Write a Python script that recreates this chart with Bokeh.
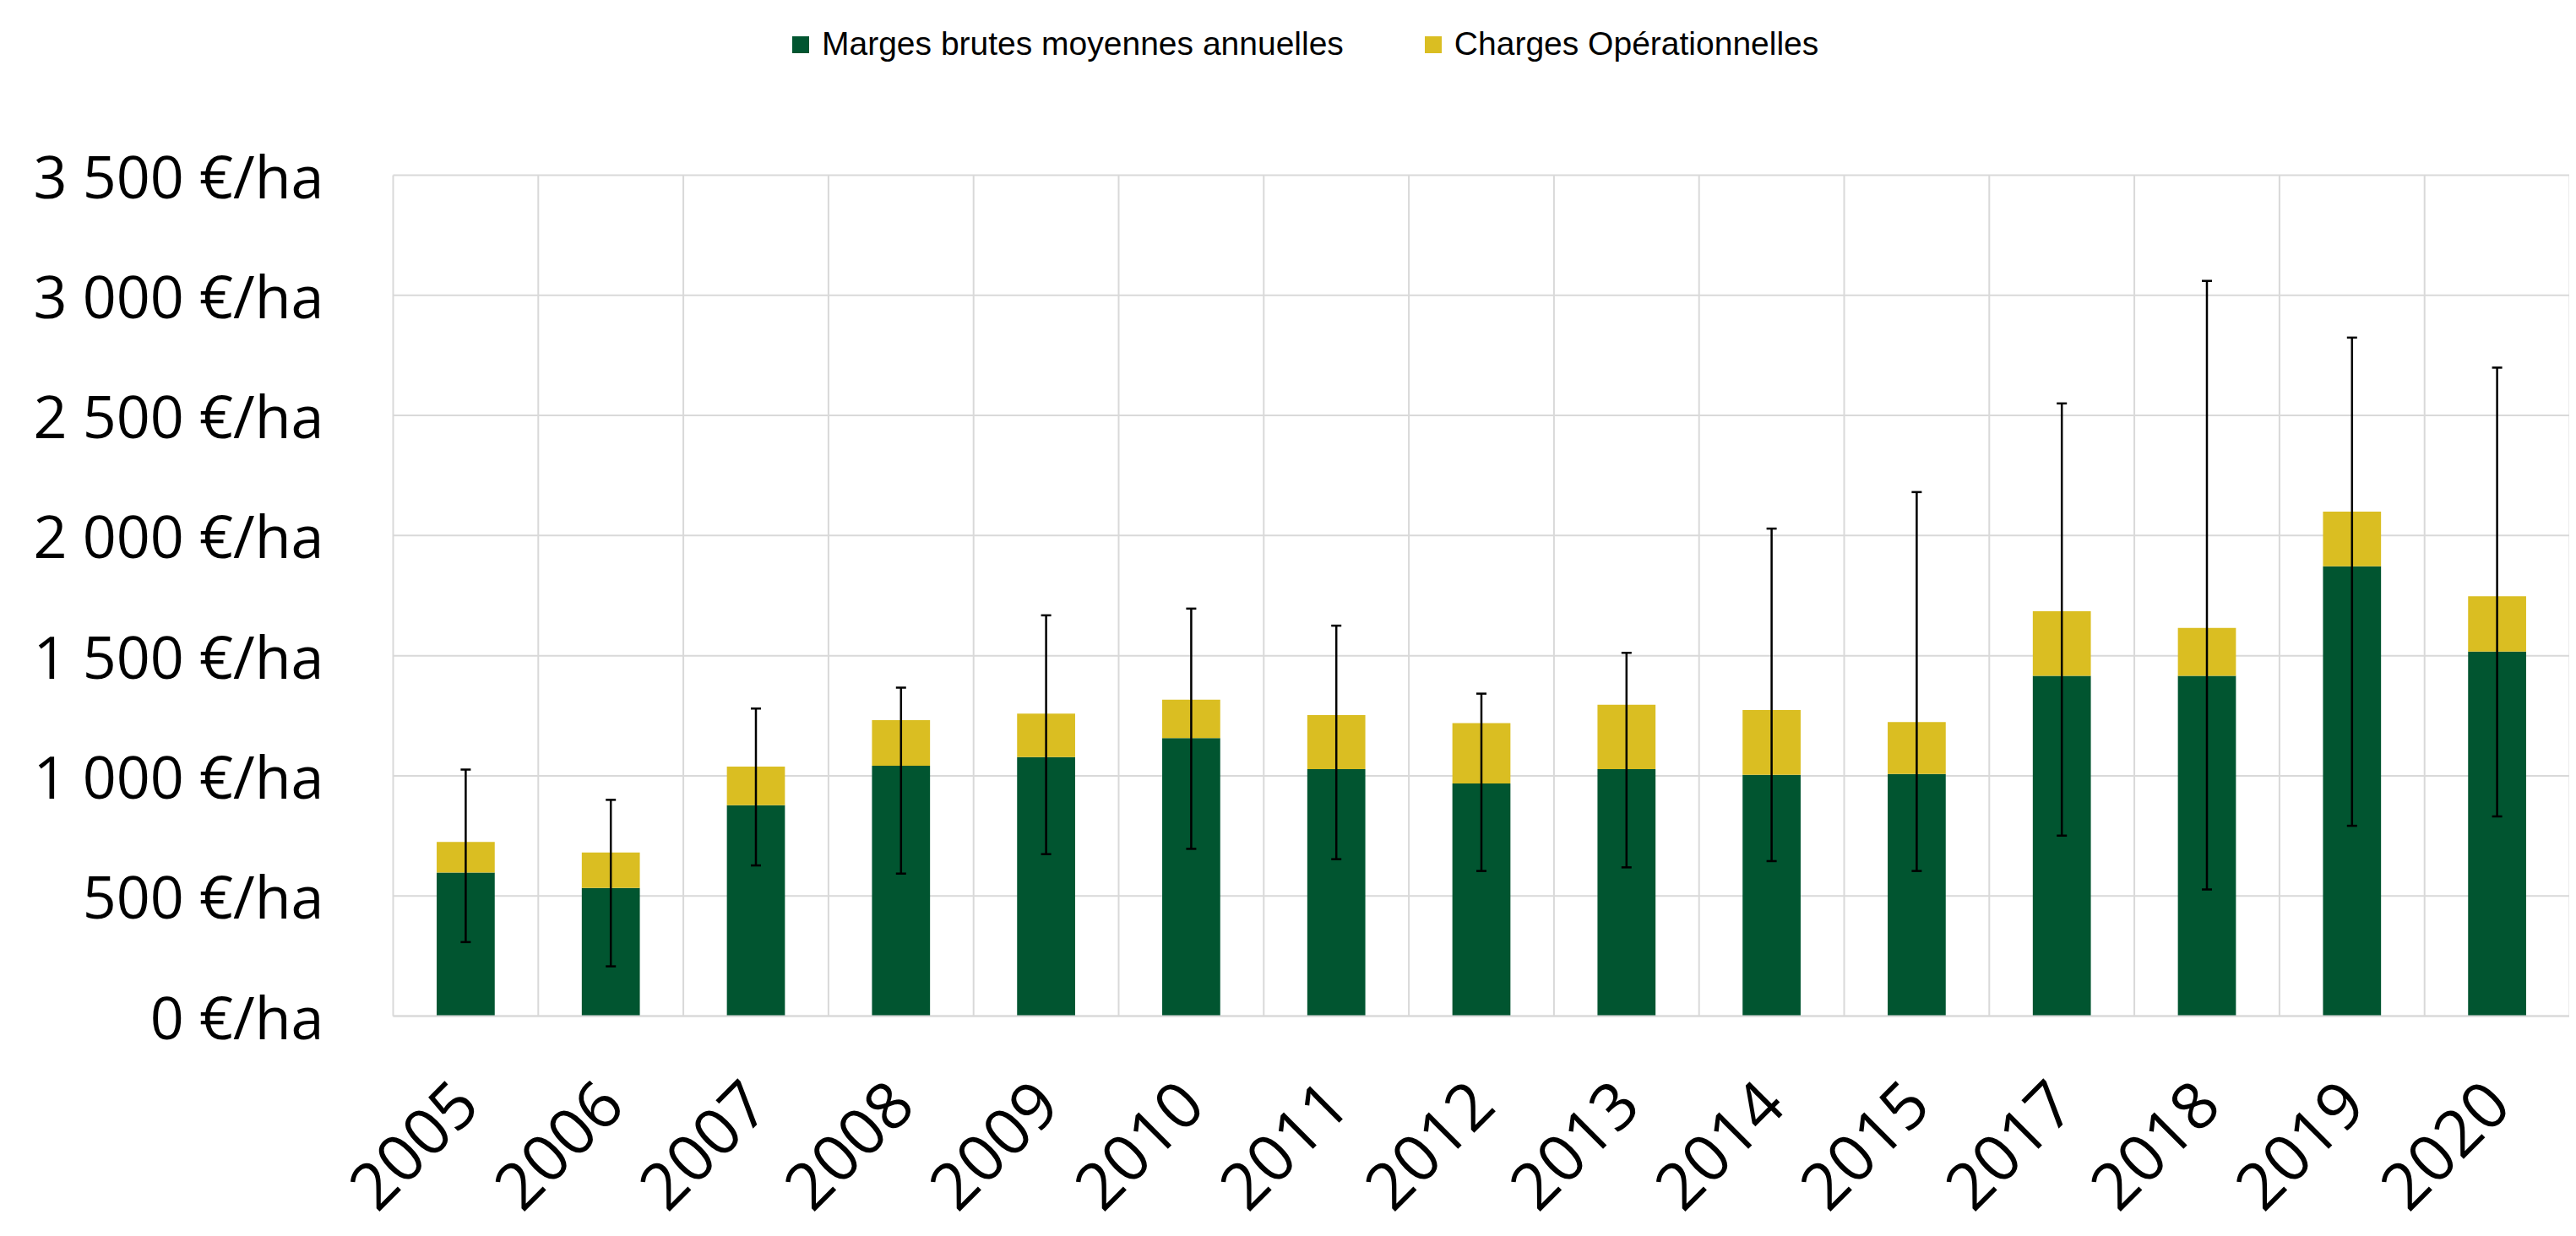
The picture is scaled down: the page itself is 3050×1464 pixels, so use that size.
import numpy as np
from bokeh.plotting import figure
from bokeh.models import (ColumnDataSource, Range1d, FixedTicker, Whisker, TeeHead,
                          Legend, LegendItem)
from bokeh.embed import file_html
from bokeh.resources import INLINE

# ---- data ----
years = ["2005", "2006", "2007", "2008", "2009", "2010", "2011", "2012",
         "2013", "2014", "2015", "2017", "2018", "2019", "2020"]
marges = [597, 533, 878, 1042, 1078, 1157, 1028, 968, 1028, 1004, 1008, 1416, 1416, 1872, 1517]
charges = [128, 148, 160, 190, 181, 160, 225, 251, 268, 270, 216, 269, 200, 228, 230]
err_haut = [1026, 900, 1280, 1367, 1668, 1696, 1625, 1342, 1512, 2029, 2181, 2550, 3060, 2824, 2699]
err_bas = [308, 207, 627, 593, 674, 696, 653, 604, 619, 645, 604, 751, 527, 792, 831]
y_ticks = [0, 500, 1000, 1500, 2000, 2500, 3000, 3500]
y_labels = ["0 €/ha", "500 €/ha", "1 000 €/ha", "1 500 €/ha", "2 000 €/ha",
            "2 500 €/ha", "3 000 €/ha", "3 500 €/ha"]
series = ["Marges brutes moyennes annuelles", "Charges Opérationnelles"]
colors = ["#015530", "#DABE22"]

# ---- layout (pixels) ----
W, H = 3042, 1456
PLOT_LEFT, PLOT_RIGHT, PLOT_TOP, PLOT_BOTTOM = 465, 3042, 207, 1203

n = len(years)
upp_y = (y_ticks[-1] - y_ticks[0]) / (PLOT_BOTTOM - PLOT_TOP)
y_max = y_ticks[-1] + PLOT_TOP * upp_y
y_min = y_ticks[0] - (H - PLOT_BOTTOM) * upp_y
upp_x = n / (PLOT_RIGHT - PLOT_LEFT)
x_min = -0.5 - PLOT_LEFT * upp_x
x_max = n - 0.5 + (W - PLOT_RIGHT) * upp_x

xs = list(range(n))
src = ColumnDataSource(dict(x=xs, marges=marges, charges=charges, hi=err_haut, lo=err_bas))

p = figure(width=W, height=H,
           x_range=Range1d(x_min, x_max), y_range=Range1d(y_min, y_max),
           output_backend="svg", toolbar_location=None,
           min_border_left=0, min_border_right=0, min_border_top=0, min_border_bottom=0)
p.outline_line_color = None
p.background_fill_color = "white"
p.xgrid.visible = False
p.ygrid.visible = False

# gridlines limited to the chart area
bounds = [i - 0.5 for i in range(n + 1)]
p.segment(x0=bounds, x1=bounds, y0=[y_ticks[0]] * len(bounds), y1=[y_ticks[-1]] * len(bounds),
          line_color="#D9D9D9", line_width=2)
p.segment(x0=[bounds[0]] * len(y_ticks), x1=[bounds[-1]] * len(y_ticks), y0=y_ticks, y1=y_ticks,
          line_color="#D9D9D9", line_width=2)

rs = p.vbar_stack(["marges", "charges"], x="x", width=0.4, source=src,
                  fill_color=colors, line_color=None)

whisk = Whisker(source=src, base="x", upper="hi", lower="lo",
                line_color="black", line_width=2.5, level="overlay",
                upper_head=TeeHead(size=12, line_width=2.5, line_color="black"),
                lower_head=TeeHead(size=12, line_width=2.5, line_color="black"))
p.add_layout(whisk)

# x axis, drawn at value 0
xa = p.xaxis[0]
xa.ticker = FixedTicker(ticks=xs)
xa.major_label_overrides = {i: y for i, y in zip(xs, years)}
xa.major_label_orientation = np.pi / 4
xa.fixed_location = y_ticks[0]
xa.bounds = (bounds[0], bounds[-1])
xa.major_tick_line_color = None
xa.minor_tick_line_color = None
xa.major_tick_out = 0
xa.major_tick_in = 0
xa.major_label_standoff = 90
xa.major_label_text_font = "Open Sans"
xa.major_label_text_font_size = "77px"
xa.major_label_text_color = "black"
xa.axis_line_color = "#D9D9D9"
xa.axis_line_width = 2

# y axis, drawn at the first category boundary
ya = p.yaxis[0]
ya.ticker = FixedTicker(ticks=y_ticks)
ya.major_label_overrides = {t: l for t, l in zip(y_ticks, y_labels)}
ya.fixed_location = bounds[0]
ya.bounds = (y_ticks[0], y_ticks[-1])
ya.major_tick_line_color = None
ya.minor_tick_line_color = None
ya.major_tick_out = 0
ya.major_tick_in = 0
ya.major_label_standoff = 82
ya.axis_line_color = None
ya.major_label_text_font = "Open Sans"
ya.major_label_text_font_size = "70px"
ya.major_label_text_color = "black"

legend = Legend(items=[LegendItem(label=series[0], renderers=[rs[0]]),
                       LegendItem(label=series[1], renderers=[rs[1]])],
                orientation="horizontal", location=(935, H - 74),
                glyph_width=25, glyph_height=25, label_standoff=13, spacing=93,
                padding=0, margin=0, border_line_color=None, background_fill_alpha=0,
                label_text_font="Liberation Sans", label_text_font_size="39px",
                label_text_color="black")
p.add_layout(legend)

open("out.html", "w").write(file_html(p, INLINE))
